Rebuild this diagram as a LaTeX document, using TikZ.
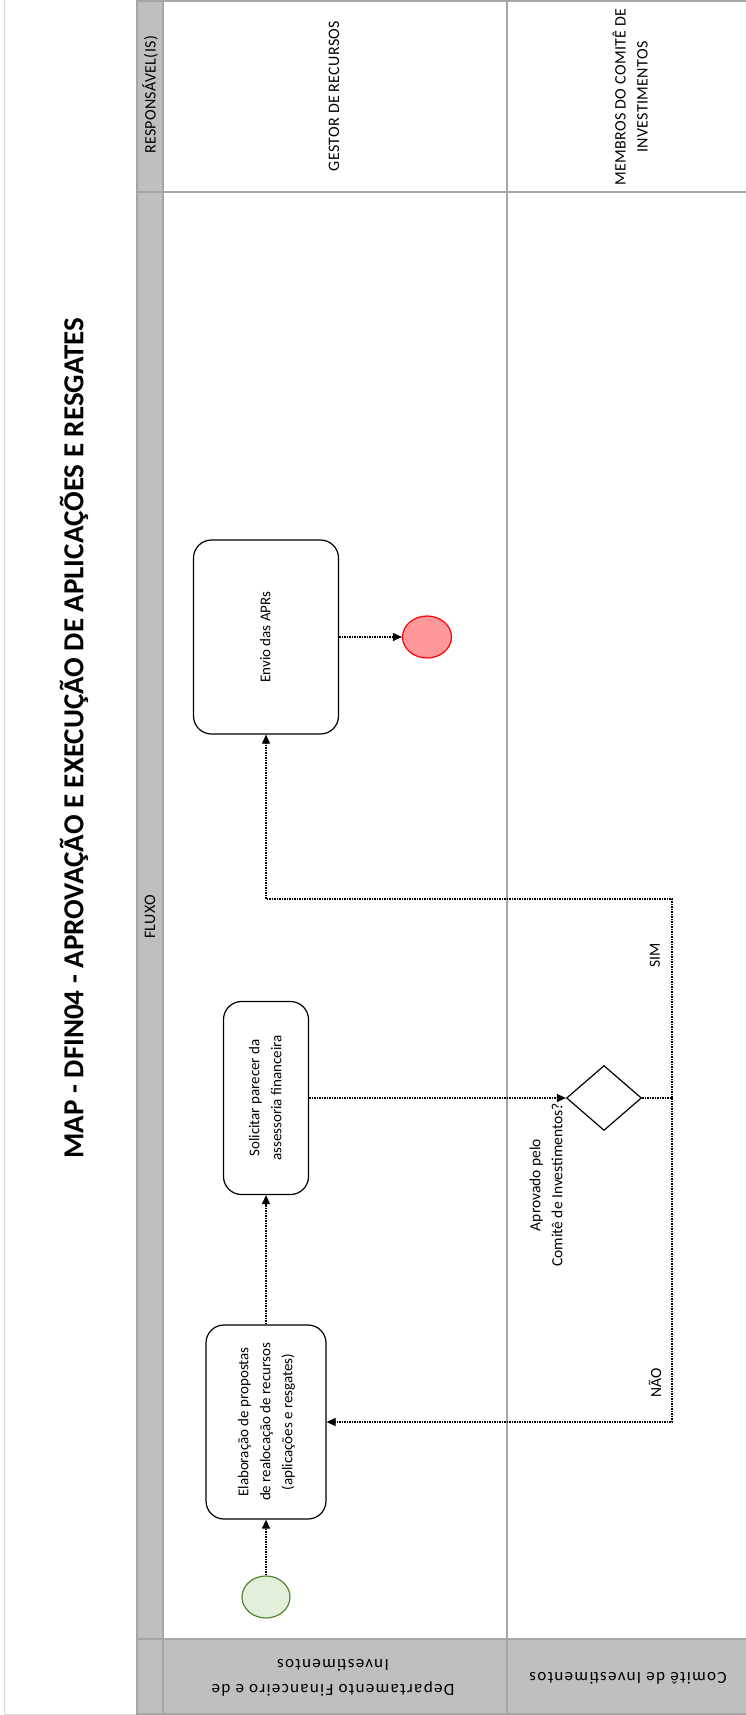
\documentclass[tikz,border=0pt]{standalone}
\usepackage{fontspec}
\setmainfont{Carlito}
\usepackage{graphicx}
\usepackage{xcolor}
\definecolor{lanegray}{RGB}{191,191,191}
\definecolor{laneline}{RGB}{166,166,166}
\definecolor{framegray}{RGB}{217,217,217}
\definecolor{startfill}{RGB}{226,239,218}
\definecolor{startdraw}{RGB}{84,130,53}
\definecolor{endfill}{RGB}{255,153,153}
\definecolor{enddraw}{RGB}{255,0,0}
\usetikzlibrary{arrows.meta, shapes.geometric, positioning}

% rotated multi-line text inside an upright box
\newcommand{\vtext}[1]{\rotatebox{90}{\begin{tabular}{@{}c@{}}#1\end{tabular}}}

\tikzset{
  procbox/.style={draw, line width=1.2pt, rounded corners=18pt, inner sep=0pt,
                  font=\fontsize{15}{22}\selectfont},
  flowarr/.style={-{Triangle[length=9pt,width=8pt]}, line width=1.2pt,
                  dash pattern=on 1.5pt off 1pt},
  lanetxt/.style={rotate=90, font=\fontsize{15.5}{22}\selectfont, align=center, inner sep=0pt},
  headtxt/.style={rotate=90, font=\fontsize{16}{22}\selectfont\addfontfeatures{LetterSpace=2},
                  align=center, inner sep=0pt},
  lanetxtinv/.style={rotate=180, font=\fontsize{17}{25}\selectfont\addfontfeatures{LetterSpace=8},
                     align=center, inner sep=0pt},
  lanerule/.style={draw=laneline, line width=1.8pt},
  startev/.style={ellipse, draw=startdraw, fill=startfill, line width=1.2pt,
                  minimum width=48pt, minimum height=42pt, inner sep=0pt},
  endev/.style={ellipse, draw=enddraw, fill=endfill, line width=1.2pt,
                minimum width=49pt, minimum height=42pt, inner sep=0pt},
  decision/.style={diamond, draw, line width=1.2pt, minimum width=75pt,
                   minimum height=65pt, inner sep=0pt}
}

\begin{document}
\begin{tikzpicture}[x=1pt, y=-1pt]
\useasboundingbox (0,0) rectangle (746,1715);

% --- Page frame and lanes ---
\draw[framegray, line width=1pt] (4,0) -- (4,1714) -- (746,1714);
\fill[lanegray] (137,1) rectangle (163,1714);
\fill[lanegray] (163,1639) rectangle (748,1714);
\draw[lanerule] (748,1) -- (137,1) -- (137,1714) -- (748,1714);
\draw[lanerule] (163,1) -- (163,1714);
\draw[lanerule] (507,1) -- (507,1714);
\draw[lanerule] (137,192) -- (748,192);
\draw[lanerule] (137,1639) -- (748,1639);

% Title
\node[rotate=90, font=\fontsize{29}{34}\selectfont\bfseries, inner sep=0pt] (titulo)
      at (74,738) {MAP - DFIN04 - APROVAÇÃO E EXECUÇÃO DE APLICAÇÕES E RESGATES};

% Header and lane labels
\node[headtxt] (resp) at (150,95) {RESPONSÁVEL(IS)};
\node[headtxt] (fluxo) at (150,917) {FLUXO};
\node[headtxt] (gestor) at (334,96) {GESTOR DE RECURSOS};
\node[headtxt] (membros) at (630,97) {MEMBROS DO COMITÊ DE\\INVESTIMENTOS};
\node[lanetxtinv] (depto) at (333,1678) {Departamento Financeiro e de\\Investimentos};
\node[lanetxtinv] (comite) at (628,1678) {Comitê de Investimentos};

% --- Flow ---
\node[startev] (inicio) at (266,1597) {};
\node[procbox, minimum width=120pt, minimum height=194pt] (elab) at (266,1422)
      {\vtext{Elaboração de propostas\\de realocação de recursos\\(aplicações e resgates)}};
\node[procbox, minimum width=85pt, minimum height=193pt] (solic) at (266,1098)
      {\vtext{Solicitar parecer da\\assessoria financeira}};
\node[decision] (aprov) at (604,1098) {};
\node[lanetxt] (aprovtxt) at (546,1185) {Aprovado pelo\\Comitê de Investimentos?};
\node[procbox, minimum width=145pt, minimum height=194pt] (envio) at (266,637)
      {\vtext{Envio das APRs}};
\node[endev] (fim) at (427,637) {};

\coordinate (simcanto) at (672,899);
\coordinate (naocanto) at (672,1422);

\draw[flowarr] (inicio) -- (elab);
\draw[flowarr] (elab) -- (solic);
\draw[flowarr] (solic) -- (aprov);
\draw[flowarr] (aprov.east) -| (simcanto) -| (envio.south);
\draw[flowarr] (aprov.east) -| (naocanto) -- (elab.east);
\draw[flowarr] (envio) -- (fim);

\node[lanetxt] (sim) at (655,955) {SIM};
\node[lanetxt] (nao) at (655,1383) {NÃO};

\end{tikzpicture}
\end{document}
